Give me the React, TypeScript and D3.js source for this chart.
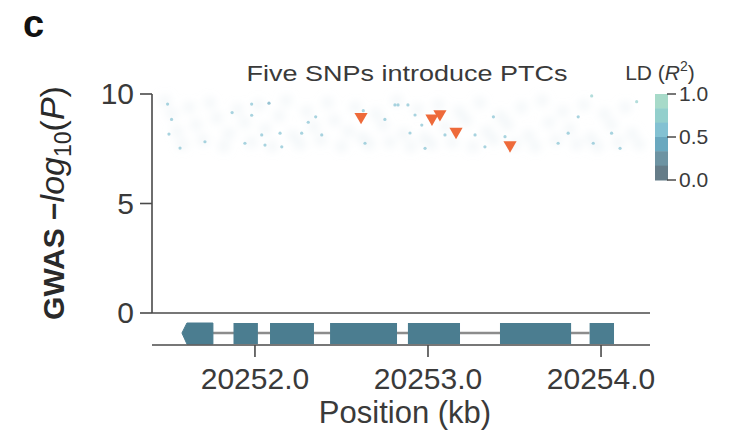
import React from "react";
import * as d3 from "d3";

// Gene model (kb)
const exonStarts = [20251.578, 20251.876, 20252.087, 20252.434, 20252.884, 20253.416, 20253.934];
const exonEnds = [20251.757, 20252.017, 20252.341, 20252.821, 20253.185, 20253.827, 20254.075];

// SNPs introducing premature termination codons
const ptcPos = [20252.613, 20253.023, 20253.069, 20253.162, 20253.474];
const ptcP = [8.96, 8.89, 9.09, 8.28, 7.67];

// Highlighted SNPs with LD to the lead variant
const snpPos = [
  20251.495, 20251.518, 20251.868, 20251.981, 20252.081, 20251.981, 20251.503, 20251.567,
  20252.039, 20251.711, 20251.942, 20252.058, 20252.308, 20252.351, 20252.626, 20252.809,
  20252.751, 20252.145, 20252.270, 20252.386, 20252.155, 20252.636, 20252.827, 20252.884,
  20252.925, 20252.964, 20253.378, 20252.896, 20253.098, 20253.272, 20252.983, 20253.329,
  20253.445, 20254.206, 20253.868, 20253.752, 20253.810, 20254.061, 20253.955, 20254.110,
  20253.946,
];
const snpP = [
  9.54, 8.84, 9.15, 9.54, 9.58, 9.03, 8.17, 7.53,
  8.13, 7.82, 7.75, 7.67, 8.71, 8.96, 9.24, 9.5,
  8.84, 8.21, 8.21, 8.13, 7.59, 7.75, 9.5, 9.5,
  9.04, 8.58, 8.96, 8.22, 8.13, 8.13, 7.52, 7.59,
  8.05, 9.65, 8.96, 7.75, 8.21, 8.21, 7.75, 7.52,
  9.91,
];
const snpLD = [
  0.55, 0.6, 0.55, 0.5, 0.45, 0.5, 0.6, 0.6,
  0.6, 0.65, 0.6, 0.6, 0.55, 0.55, 0.5, 0.55,
  0.6, 0.6, 0.6, 0.65, 0.6, 0.65, 0.55, 0.5,
  0.55, 0.55, 0.55, 0.6, 0.65, 0.65, 0.6, 0.6,
  0.65, 0.75, 0.6, 0.65, 0.65, 0.65, 0.65, 0.6,
  0.7,
];

// Remaining SNPs in the region (drawn faintly)
const bgPos = [
  20251.48, 20251.52, 20251.55, 20251.58, 20251.62, 20251.66, 20251.70, 20251.74, 20251.78,
  20251.82, 20251.85, 20251.90, 20251.94, 20251.98, 20252.02, 20252.06, 20252.10, 20252.14,
  20252.18, 20252.22, 20252.26, 20252.30, 20252.34, 20252.38, 20252.42, 20252.46, 20252.50,
  20252.54, 20252.58, 20252.62, 20252.66, 20252.70, 20252.74, 20252.78, 20252.82, 20252.86,
  20252.90, 20252.94, 20252.98, 20253.02, 20253.06, 20253.10, 20253.14, 20253.18, 20253.22,
  20253.26, 20253.30, 20253.34, 20253.38, 20253.42, 20253.46, 20253.50, 20253.54, 20253.58,
  20253.62, 20253.66, 20253.70, 20253.74, 20253.78, 20253.82, 20253.86, 20253.90, 20253.94,
  20253.98, 20254.02, 20254.06, 20254.10, 20254.14, 20254.18, 20254.22,
];
const bgP = [
  9.7, 9.1, 8.3, 7.7, 9.4, 8.6, 7.9, 9.6, 8.9,
  7.6, 8.2, 9.3, 8.7, 7.8, 9.5, 8.4, 7.6, 9.0,
  9.7, 8.1, 7.7, 9.2, 8.5, 7.9, 9.6, 8.8, 7.6,
  8.3, 9.4, 8.0, 7.7, 9.1, 8.6, 7.8, 9.7, 8.2,
  7.6, 9.3, 8.0, 7.7, 9.5, 8.5, 7.8, 9.2, 8.8,
  7.6, 9.6, 8.3, 7.9, 9.0, 8.6, 7.7, 9.4, 8.1,
  7.6, 9.7, 8.7, 7.9, 9.2, 8.4, 7.7, 9.5, 8.0,
  7.6, 9.1, 8.6, 7.8, 9.4, 8.2, 7.7,
];

const yTicks = [0, 5, 10];
const xTicks = [20252.0, 20253.0, 20254.0];
const ldTicks = [0, 0.5, 1];
const ldColors = ["#657c88", "#6d93a2", "#6aa8bf", "#83c1d2", "#93cfcc", "#a7dac9"];

const FONT = "'Liberation Sans', Arial, sans-serif";
const AXIS = "#4a4a4a";
const TEXT = "#3a3a3a";

export default function App() {
  const x = d3.scaleLinear().domain([20251.405, 20254.283]).range([152, 650]);
  const y = d3.scaleLinear().domain([0, 10]).range([313, 94]);
  const ld = d3.scaleLinear().domain([0, 1]).range([180, 94]);
  const ldColor = d3.scaleQuantize<string>().domain([0, 1]).range(ldColors);
  const tri = d3.symbol().type(d3.symbolTriangle).size(75)()!;

  const exonTop = 323;
  const exonBot = 344;
  const intronY = 333;
  const trackAxisY = 345;

  // first exon drawn with a pointed left end (strand direction)
  const firstExon = (i: number) => {
    const x0 = x(exonStarts[i]);
    const x1 = x(exonEnds[i]);
    return `M${x0},${intronY} L${x0 + 5},${exonTop} L${x1},${exonTop} L${x1},${exonBot} L${x0 + 5},${exonBot} Z`;
  };

  const segH = (ld(0) - ld(1)) / ldColors.length;

  return (
    <svg width={730} height={432} style={{ display: "block", position: "absolute", left: 0, top: 0 }}>
      <defs>
        <filter id="haze" x="-10%" y="-50%" width="120%" height="200%">
          <feGaussianBlur stdDeviation={4} />
        </filter>
      </defs>
      <rect width={730} height={432} fill="#fff" />
      <text x={23} y={37} fontFamily={FONT} fontWeight="bold" fontSize={38} fill="#111">
        c
      </text>

      {/* title */}
      <text
        x={407}
        y={81}
        textAnchor="middle"
        fontFamily={FONT}
        fontSize={22}
        fill={TEXT}
        textLength={321}
        lengthAdjust="spacingAndGlyphs"
      >
        Five SNPs introduce PTCs
      </text>

      {/* background SNPs */}
      <g filter="url(#haze)">
        {bgPos.map((p, i) => (
          <circle key={i} cx={x(p)} cy={y(bgP[i])} r={6} fill="#d6e6eb" opacity={0.3} />
        ))}
      </g>
      {/* LD-coloured SNPs */}
      <g>
        {snpPos.map((p, i) => (
          <circle key={i} cx={x(p)} cy={y(snpP[i])} r={1.6} fill={ldColor(snpLD[i])} opacity={0.7} />
        ))}
      </g>
      {/* PTC SNPs */}
      <g>
        {ptcPos.map((p, i) => (
          <path key={i} d={tri} transform={`translate(${x(p)},${y(ptcP[i])}) rotate(180)`} fill="#ee6a3a" />
        ))}
      </g>

      {/* y axis */}
      <line x1={152} x2={152} y1={y(10)} y2={y(0)} stroke={AXIS} strokeWidth={1.6} />
      <line x1={152} x2={650} y1={y(0)} y2={y(0)} stroke={AXIS} strokeWidth={1.6} />
      {yTicks.map((t) => (
        <g key={t}>
          <line x1={140} x2={152} y1={y(t)} y2={y(t)} stroke={AXIS} strokeWidth={1.6} />
          <text x={134} y={y(t) + 10} textAnchor="end" fontFamily={FONT} fontSize={30} fill={TEXT}>
            {t}
          </text>
        </g>
      ))}
      <text
        transform={`translate(64,203) rotate(-90)`}
        textAnchor="middle"
        fontFamily={FONT}
        fontSize={34}
        fill="#2a2a2a"
      >
        <tspan fontWeight="bold" fontSize={30}>GWAS −</tspan>
        <tspan fontStyle="italic">log</tspan>
        <tspan fontSize={23} dy={7}>10</tspan>
        <tspan dy={-7}>(</tspan>
        <tspan fontStyle="italic">P</tspan>
        <tspan>)</tspan>
      </text>

      {/* gene model */}
      <line x1={x(exonEnds[0])} x2={x(exonStarts[exonStarts.length - 1])} y1={intronY} y2={intronY} stroke="#8c8c8c" strokeWidth={2.5} />
      {exonStarts.map((s, i) =>
        i === 0 ? (
          <path key={i} d={firstExon(i)} fill="#4b7d90" strokeLinejoin="round" stroke="#4b7d90" strokeWidth={1} />
        ) : (
          <rect key={i} x={x(s)} y={exonTop} width={x(exonEnds[i]) - x(s)} height={exonBot - exonTop} fill="#4b7d90" />
        )
      )}

      {/* position axis */}
      <line x1={152} x2={650} y1={trackAxisY} y2={trackAxisY} stroke={AXIS} strokeWidth={1.6} />
      {xTicks.map((t) => (
        <g key={t}>
          <line x1={x(t)} x2={x(t)} y1={trackAxisY} y2={trackAxisY + 12} stroke={AXIS} strokeWidth={1.6} />
          <text x={x(t)} y={389} textAnchor="middle" fontFamily={FONT} fontSize={30} fill={TEXT}>
            {d3.format(".1f")(t)}
          </text>
        </g>
      ))}
      <text x={405} y={423} textAnchor="middle" fontFamily={FONT} fontSize={31} fill={TEXT}>
        Position (kb)
      </text>

      {/* LD colour bar */}
      <text x={660} y={80} textAnchor="middle" fontFamily={FONT} fontSize={21} fill={TEXT}>
        LD (<tspan fontStyle="italic">R</tspan>
        <tspan fontSize={14} dy={-9}>2</tspan>
        <tspan dy={9}>)</tspan>
      </text>
      {ldColors.map((c, i) => (
        <rect key={c} x={655} y={ld(1) + i * segH} width={13} height={segH + 0.5} fill={ldColors[ldColors.length - 1 - i]} />
      ))}
      {ldTicks.map((t) => (
        <g key={t}>
          <line x1={667} x2={676} y1={ld(t)} y2={ld(t)} stroke={AXIS} strokeWidth={1.5} />
          <text x={679} y={ld(t) + 7} fontFamily={FONT} fontSize={21} fill={TEXT}>
            {d3.format(".1f")(t)}
          </text>
        </g>
      ))}
    </svg>
  );
}
